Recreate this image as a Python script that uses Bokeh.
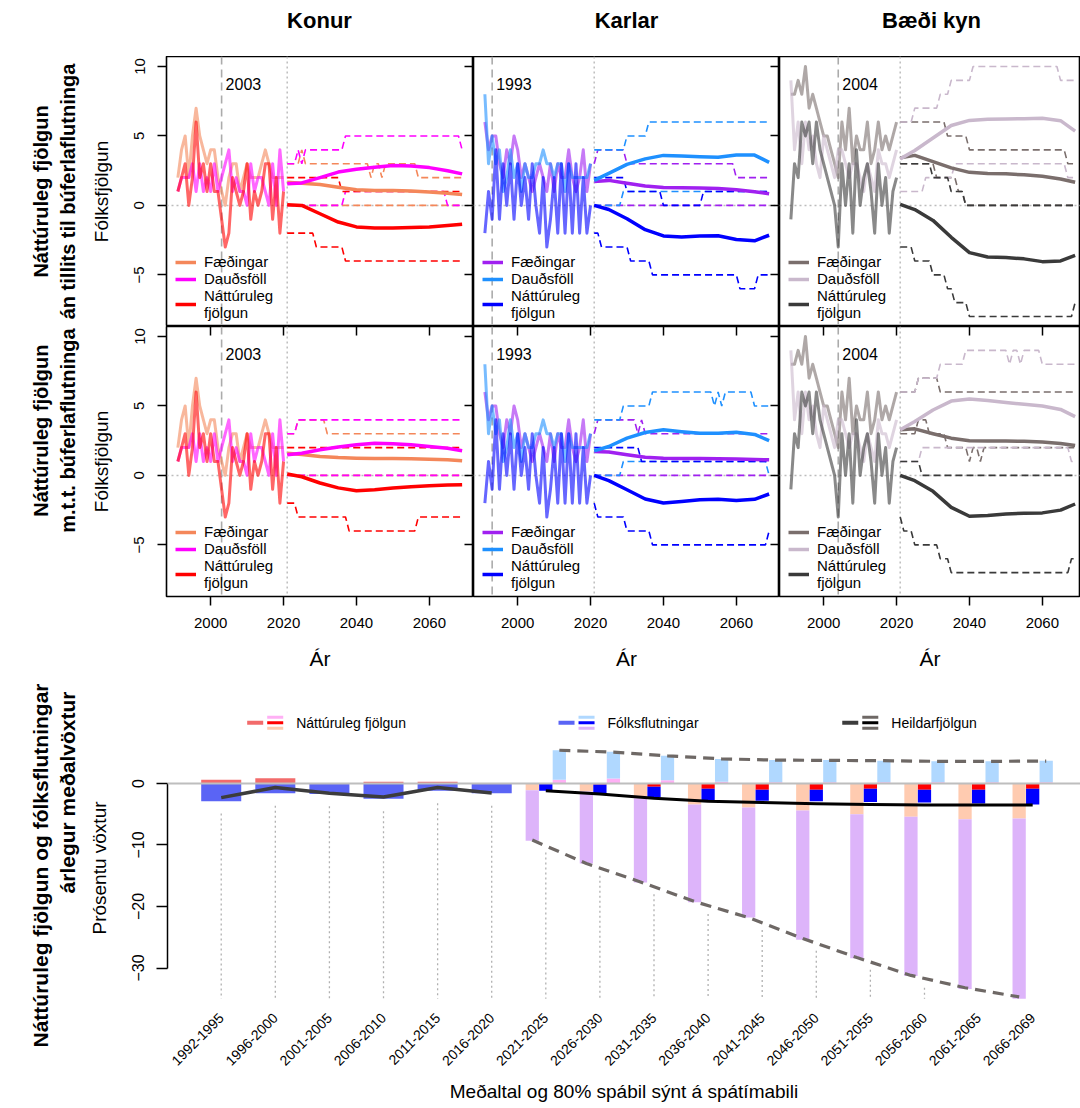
import math
from bokeh.plotting import figure
from bokeh.models import (Range1d, LinearAxis, FixedTicker, Span, Legend,
                          LegendItem, Label)
from bokeh.layouts import column, row
from bokeh.embed import file_html
from bokeh.resources import INLINE
from bokeh.core.properties import value

FONT = "Liberation Sans"
INK = "black"

# ---------------------------------------------------------------- data
hist_years = list(range(1991, 2021))
proj_years = list(range(2021, 2070))
mean_years = [2021, 2025, 2030, 2035, 2040, 2045, 2050, 2055, 2060, 2065, 2069]

# Konur (women) – history
kon_births_hist = [2, 4, 5, 2, 5, 7, 5, 4, 3, 4, 4, 2, 1, 0, 2, 3, 3, 1, 2, 3, 2, 2, 2, 3, 4, 3, 2, 2, 2, 2]
kon_deaths_hist = [1, 2, 2, 2, 3, 1, 3, 1, 2, 1, 3, 1, 2, 3, 4, 1, 2, 1, 1, 0, 3, 1, 2, 2, 1, 0, 3, 0, 4, 1]
kon_nat_hist = [1, 2, 3, 0, 2, 6, 2, 3, 1, 3, 1, 1, -1, -3, -2, 2, 1, 0, 1, 3, -1, 1, 0, 1, 3, 3, -1, 2, -2, 1]
# Karlar (men) – history
kar_births_hist = [6, 4, 5, 5, 3, 2, 4, 3, 5, 4, 2, 3, 2, 1, 2, 3, 2, 1, 3, 1, 3, 2, 2, 4, 2, 1, 2, 4, 1, 3]
kar_deaths_hist = [8, 3, 5, 3, 4, 1, 2, 4, 2, 3, 1, 3, 2, 2, 3, 3, 4, 3, 3, 2, 3, 3, 1, 3, 2, 2, 2, 2, 2, 3]
kar_nat_hist = [-2, 1, -1, 4, -1, 3, 0, 3, -1, 3, 0, 2, -1, 3, 0, -2, 2, -3, -1, 2, -2, 3, -2, 3, -2, 3, -2, 2, -2, 0]
# Bæði kyn – history
bae_births_hist = [8, 8, 9, 8, 10, 7, 8, 7, 6, 5, 5, 4, 3, 2, 6, 4, 7, 3, 5, 4, 4, 6, 3, 4, 6, 4, 5, 4, 5, 6]
bae_deaths_hist = [9, 4, 6, 3, 6, 4, 5, 3, 2, 5, 4, 3, 2, 4, 4, 3, 2, 3, 3, 2, 1, 3, 2, 1, 4, 3, 3, 2, 3, 4]
bae_nat_hist = [-1, 3, 2, 6, 5, 6, 3, 6, 4, 3, 2, 1, 0, -3, 3, 0, 3, -2, 4, 0, 2, 3, 1, -2, 3, 0, 2, -2, 1, 2]

# Projection means (at mean_years); 1 = without migration, 2 = with migration
kon1_births = [1.67, 1.6, 1.5, 1.3, 1.12, 1.08, 1.08, 1.04, 0.96, 0.88, 0.79]
kon1_deaths = [1.55, 1.62, 2.0, 2.4, 2.6, 2.75, 2.87, 2.84, 2.72, 2.5, 2.27]
kon1_nat = [0.05, 0.0, -0.6, -1.2, -1.55, -1.63, -1.63, -1.6, -1.55, -1.45, -1.36]
kon2_births = [1.6, 1.5, 1.36, 1.28, 1.24, 1.22, 1.22, 1.2, 1.16, 1.12, 1.05]
kon2_deaths = [1.48, 1.6, 1.84, 2.05, 2.2, 2.32, 2.27, 2.2, 2.08, 1.95, 1.77]
kon2_nat = [0.1, -0.1, -0.55, -0.9, -1.1, -1.03, -0.9, -0.82, -0.74, -0.7, -0.67]
kar1_births = [1.72, 1.8, 1.6, 1.4, 1.28, 1.27, 1.25, 1.22, 1.12, 0.98, 0.84]
kar1_deaths = [1.8, 2.3, 2.95, 3.35, 3.6, 3.55, 3.5, 3.47, 3.62, 3.62, 3.1]
kar1_nat = [0.0, -0.3, -0.96, -1.75, -2.2, -2.27, -2.2, -2.18, -2.45, -2.55, -2.15]
kar2_births = [1.72, 1.68, 1.48, 1.3, 1.24, 1.22, 1.22, 1.2, 1.18, 1.15, 1.12]
kar2_deaths = [1.77, 2.08, 2.68, 3.09, 3.28, 3.15, 3.04, 3.04, 3.1, 2.95, 2.5]
kar2_nat = [0.0, -0.38, -1.03, -1.7, -1.99, -1.88, -1.75, -1.72, -1.8, -1.72, -1.34]
bae1_births = [3.42, 3.6, 3.15, 2.7, 2.38, 2.3, 2.27, 2.2, 2.1, 1.9, 1.67]
bae1_deaths = [3.35, 3.95, 4.85, 5.75, 6.12, 6.2, 6.22, 6.24, 6.27, 6.1, 5.35]
bae1_nat = [0.07, -0.3, -1.08, -2.3, -3.4, -3.72, -3.76, -3.85, -4.05, -4.0, -3.6]
bae2_births = [3.28, 3.35, 3.0, 2.68, 2.5, 2.48, 2.48, 2.45, 2.4, 2.3, 2.15]
bae2_deaths = [3.28, 3.88, 4.71, 5.35, 5.5, 5.4, 5.25, 5.12, 5.0, 4.75, 4.23]
bae2_nat = [0.0, -0.38, -1.15, -2.3, -2.94, -2.88, -2.78, -2.72, -2.7, -2.5, -2.06]

# 80% prediction bounds, written as step runs: (first year, level)
kon1_births_hi = [(2021, 3), (2025, 4), (2026, 3), (2044, 2), (2045, 3), (2047, 2), (2048, 3), (2057, 2)]
kon1_births_lo = [(2021, 0)]
kon1_deaths_hi = [(2021, 3), (2024, 4), (2025, 3), (2026, 4), (2037, 5), (2069, 4)]
kon1_deaths_lo = [(2021, 0), (2037, 1), (2065, 0)]
kon1_nat_hi = [(2021, 2), (2036, 1)]
kon1_nat_lo = [(2021, -2), (2029, -3), (2037, -4)]
kon2_births_hi = [(2021, 3), (2024, 4), (2032, 3)]
kon2_births_lo = [(2021, 0)]
kon2_deaths_hi = [(2021, 3), (2024, 4)]
kon2_deaths_lo = [(2021, 0)]
kon2_nat_hi = [(2021, 2)]
kon2_nat_lo = [(2021, -2), (2024, -3), (2038, -4), (2057, -3)]
kar1_births_hi = [(2021, 3), (2022, 4), (2030, 3), (2060, 2)]
kar1_births_lo = [(2021, 0)]
kar1_deaths_hi = [(2021, 4), (2030, 5), (2036, 6)]
kar1_deaths_lo = [(2021, 0), (2029, 1)]
kar1_nat_hi = [(2021, 2), (2030, 1), (2040, 0), (2051, 1)]
kar1_nat_lo = [(2021, -2), (2023, -3), (2031, -4), (2037, -5), (2061, -6), (2066, -5)]
kar2_births_hi = [(2021, 3), (2022, 4), (2033, 3), (2034, 4), (2035, 3)]
kar2_births_lo = [(2021, 0)]
kar2_deaths_hi = [(2021, 4), (2029, 5), (2037, 6), (2054, 5), (2055, 6), (2056, 5), (2057, 6), (2065, 5)]
kar2_deaths_lo = [(2021, 0), (2029, 1), (2069, 0)]
kar2_nat_hi = [(2021, 2), (2034, 1)]
kar2_nat_lo = [(2021, -2), (2022, -3), (2030, -4), (2037, -5), (2069, -4)]
bae1_births_hi = [(2021, 6), (2034, 5), (2040, 4), (2067, 3)]
bae1_births_lo = [(2021, 3), (2031, 2), (2037, 1), (2039, 0)]
bae1_deaths_hi = [(2021, 6), (2025, 7), (2032, 8), (2035, 9), (2041, 10), (2065, 9)]
bae1_deaths_lo = [(2021, 1), (2028, 2), (2036, 3), (2067, 2)]
bae1_nat_hi = [(2021, 3), (2030, 2), (2035, 1), (2039, 0)]
bae1_nat_lo = [(2021, -3), (2025, -4), (2030, -5), (2034, -6), (2036, -7), (2040, -8), (2069, -7)]
bae2_births_hi = [(2021, 6), (2026, 7), (2032, 6)]
bae2_births_lo = [(2021, 3), (2026, 4), (2029, 3), (2034, 2), (2040, 1), (2041, 2), (2043, 1), (2044, 2)]
bae2_deaths_hi = [(2021, 6), (2026, 7), (2032, 8), (2039, 9), (2051, 8), (2052, 9), (2054, 8), (2055, 9), (2060, 8)]
bae2_deaths_lo = [(2021, 1), (2027, 2), (2068, 1)]
bae2_nat_hi = [(2021, 1), (2027, 0)]
bae2_nat_lo = [(2021, -3), (2022, -4), (2025, -5), (2032, -6), (2035, -7), (2068, -6)]

mark_years = [2003, 1993, 2004]
col_titles = ["Konur", "Karlar", "Bæði kyn"]
legend_labels = ["Fæðingar", "Dauðsföll", "Náttúruleg\nfjölgun"]
y_ticks = [-5, 0, 5, 10]
x_ticks = [2000, 2020, 2040, 2060]

# Bottom chart: average annual growth (%) per period
periods = ["1992-1995", "1996-2000", "2001-2005", "2006-2010", "2011-2015", "2016-2020",
           "2021-2025", "2026-2030", "2031-2035", "2036-2040", "2041-2045", "2046-2050",
           "2051-2055", "2056-2060", "2061-2065", "2066-2069"]
hist_nat = [0.6, 0.87, 0.05, 0.27, 0.27, 0.05]
hist_mig = [-2.9, -1.6, -1.7, -2.5, -1.2, -1.6]
hist_total = [-2.3, -0.65, -1.6, -2.2, -0.65, -1.55]
fut_nat_lo = [-1.1, -1.3, -2.4, -3.4, -3.9, -4.4, -5.0, -5.4, -5.8, -5.7]
fut_mig_lo = [-8.2, -11.7, -13.7, -15.9, -17.9, -21.0, -23.4, -25.9, -27.6, -29.3]
fut_nat_mid = [-0.05, -0.15, -0.54, -0.87, -1.0, -1.0, -0.87, -1.0, -1.0, -0.87]
fut_mig_mid = [-1.15, -1.45, -1.66, -1.83, -1.8, -1.9, -2.13, -2.1, -2.25, -2.53]
fut_nat_hi = [0.6, 0.8, 0.54, 0.27, 0.2, 0.2, 0.2, 0.2, 0.2, 0.2]
fut_mig_hi = [4.8, 4.35, 3.96, 3.73, 3.6, 3.6, 3.5, 3.4, 3.4, 3.5]
fut_tot_mean = [-1.2, -1.7, -2.4, -2.9, -3.1, -3.3, -3.4, -3.5, -3.5, -3.5]
fut_tot_lo = [-9.2, -13.0, -16.0, -19.2, -21.8, -25.2, -28.3, -31.2, -33.2, -34.7]
fut_tot_hi = [5.4, 5.1, 4.5, 4.0, 3.8, 3.75, 3.7, 3.6, 3.6, 3.65]
bottom_ticks = [-30, -20, -10, 0]

# ---------------------------------------------------------------- styles
COLORS = [
    {"births": "#F4875A", "deaths": "#FF00FF", "nat": "#FF0000"},
    {"births": "#A020F0", "deaths": "#1E90FF", "nat": "#0000FF"},
    {"births": "#7A6E6C", "deaths": "#C9B8CC", "nat": "#3A3A3A"},
]
HIST = [
    {"births": kon_births_hist, "deaths": kon_deaths_hist, "nat": kon_nat_hist},
    {"births": kar_births_hist, "deaths": kar_deaths_hist, "nat": kar_nat_hist},
    {"births": bae_births_hist, "deaths": bae_deaths_hist, "nat": bae_nat_hist},
]
PROJ = {
    (1, 0): ({"births": kon1_births, "deaths": kon1_deaths, "nat": kon1_nat},
             {"births": (kon1_births_lo, kon1_births_hi), "deaths": (kon1_deaths_lo, kon1_deaths_hi), "nat": (kon1_nat_lo, kon1_nat_hi)}),
    (2, 0): ({"births": kon2_births, "deaths": kon2_deaths, "nat": kon2_nat},
             {"births": (kon2_births_lo, kon2_births_hi), "deaths": (kon2_deaths_lo, kon2_deaths_hi), "nat": (kon2_nat_lo, kon2_nat_hi)}),
    (1, 1): ({"births": kar1_births, "deaths": kar1_deaths, "nat": kar1_nat},
             {"births": (kar1_births_lo, kar1_births_hi), "deaths": (kar1_deaths_lo, kar1_deaths_hi), "nat": (kar1_nat_lo, kar1_nat_hi)}),
    (2, 1): ({"births": kar2_births, "deaths": kar2_deaths, "nat": kar2_nat},
             {"births": (kar2_births_lo, kar2_births_hi), "deaths": (kar2_deaths_lo, kar2_deaths_hi), "nat": (kar2_nat_lo, kar2_nat_hi)}),
    (1, 2): ({"births": bae1_births, "deaths": bae1_deaths, "nat": bae1_nat},
             {"births": (bae1_births_lo, bae1_births_hi), "deaths": (bae1_deaths_lo, bae1_deaths_hi), "nat": (bae1_nat_lo, bae1_nat_hi)}),
    (2, 2): ({"births": bae2_births, "deaths": bae2_deaths, "nat": bae2_nat},
             {"births": (bae2_births_lo, bae2_births_hi), "deaths": (bae2_deaths_lo, bae2_deaths_hi), "nat": (bae2_nat_lo, bae2_nat_hi)}),
}


def expand_steps(runs):
    out = []
    for yr in proj_years:
        lvl = None
        for start, v in runs:
            if start <= yr:
                lvl = v
        out.append(lvl)
    return out


X0, X1 = 1987.88, 2072.12
Y0, Y1 = -8.72, 10.72
FRAME_W = [307, 306, 301]
PX_PER_YEAR = 307 / (X1 - X0)
KEYS = ["births", "deaths", "nat"]


def blank_fig(width, height, xr, yr):
    f = figure(width=width, height=height, x_range=xr, y_range=yr,
               output_backend="svg", toolbar_location=None,
               x_axis_type=None, y_axis_type=None,
               min_border_left=0, min_border_right=0,
               min_border_top=0, min_border_bottom=0)
    f.outline_line_color = None
    f.background_fill_color = "white"
    f.border_fill_color = "white"
    return f


def tick_only_axis(loc, ticks):
    # ticks of a neighbouring panel's axis that reach into this panel
    return LinearAxis(fixed_location=loc, ticker=FixedTicker(ticks=ticks, minor_ticks=[]),
                      major_tick_in=9, major_tick_out=0, major_tick_line_width=1.5,
                      major_tick_line_color=INK,
                      major_label_text_color=None, major_label_text_alpha=0,
                      major_label_standoff=0,
                      axis_line_color=None, minor_tick_line_color=None)


def build_panel(rowno, col):
    first = col == 0
    left_b = 81 if first else 0
    bottom_b = 80 if rowno == 2 else 0
    fw = FRAME_W[col]
    x_end = X0 + fw / PX_PER_YEAR
    p = figure(width=fw + left_b, height=270 + bottom_b,
               x_range=Range1d(X0, x_end), y_range=Range1d(Y0, Y1),
               output_backend="svg", toolbar_location=None,
               x_axis_type=None, y_axis_type=None,
               min_border_left=left_b, min_border_right=0,
               min_border_top=0, min_border_bottom=bottom_b)
    p.outline_line_color = INK
    p.outline_line_width = 1.6
    p.background_fill_color = "white"
    p.border_fill_color = "white"

    p.add_layout(Span(location=mark_years[col], dimension="height", line_color="#ABABAB",
                      line_dash="8 5", line_width=1.6, level="underlay"))
    p.add_layout(Span(location=2021, dimension="height", line_color="#BDBDBD",
                      line_dash="2 3", line_width=1.5, level="underlay"))
    p.add_layout(Span(location=0, dimension="width", line_color="#BDBDBD",
                      line_dash="2 3", line_width=1.5, level="underlay"))

    colors = COLORS[col]
    hist = HIST[col]
    means, bounds = PROJ[(rowno, col)]
    for k in KEYS:
        p.line(hist_years, hist[k], line_color=colors[k], line_alpha=0.6,
               line_width=3, line_join="round")
    for k in KEYS:
        lo, hi = bounds[k]
        p.line(proj_years, expand_steps(hi), line_color=colors[k], line_width=1.6, line_dash="7 4")
        p.line(proj_years, expand_steps(lo), line_color=colors[k], line_width=1.6, line_dash="7 4")
    rends = []
    for k in KEYS:
        rends.append(p.line(mean_years, means[k], line_color=colors[k], line_width=3.5,
                            line_join="round"))

    legend = Legend(items=[LegendItem(label=lab, renderers=[r]) for lab, r in zip(legend_labels, rends)],
                    location=(7, 3), padding=2, margin=0, spacing=0,
                    label_text_font=FONT, label_text_font_size="15px", label_text_color=INK,
                    label_height=16, glyph_height=16, glyph_width=21, label_standoff=8,
                    background_fill_alpha=0, border_line_alpha=0)
    p.add_layout(legend)

    p.add_layout(Label(x=mark_years[col] + 1.1, y=8.75, text=str(mark_years[col]),
                       text_font=FONT, text_font_size="16px", text_color=INK,
                       text_baseline="middle", text_align="left"))

    if first:
        ax = LinearAxis(ticker=FixedTicker(ticks=y_ticks, minor_ticks=[]),
                        major_tick_out=9, major_tick_in=0, major_tick_line_width=1.5,
                        major_tick_line_color=INK,
                        major_label_orientation="vertical",
                        major_label_text_font=FONT, major_label_text_font_size="15px",
                        major_label_text_color=INK,
                        major_label_standoff=13, axis_line_color=None,
                        minor_tick_line_color=None,
                        axis_label="Fólksfjölgun", axis_label_text_font=FONT,
                        axis_label_text_font_size="19px", axis_label_text_font_style="normal",
                        axis_label_text_color=INK, axis_label_standoff=20)
        p.add_layout(ax, "left")
    if col < 2:
        p.add_layout(tick_only_axis(x_end, y_ticks), "right")
    if rowno == 2:
        p.add_layout(tick_only_axis(Y1, x_ticks), "above")
        bx = LinearAxis(ticker=FixedTicker(ticks=x_ticks, minor_ticks=[]),
                        major_tick_out=9, major_tick_in=0, major_tick_line_width=1.5,
                        major_tick_line_color=INK,
                        major_label_text_font=FONT, major_label_text_font_size="15px",
                        major_label_text_color=INK,
                        major_label_standoff=12, axis_line_color=None,
                        minor_tick_line_color=None,
                        axis_label="Ár", axis_label_text_font=FONT,
                        axis_label_text_font_size="21px", axis_label_text_font_style="normal",
                        axis_label_text_color=INK, axis_label_standoff=16)
        p.add_layout(bx, "below")
    return p


# ---------------------------------------------------------------- header & side labels
header = blank_fig(1080, 56, Range1d(0, 1080), Range1d(-56, 0))
header.text(x=[319, 626, 931], y=[-20, -20, -20], text=col_titles,
            text_font=value(FONT), text_font_style="bold", text_font_size="22px",
            text_color=INK, text_align="center", text_baseline="middle")

ll1 = blank_fig(85, 270, Range1d(0, 85), Range1d(-326, -56))
ll1.text(x=[40, 67], y=[-191, -191],
         text=["Náttúruleg fjölgun", "án tillits til búferlaflutninga"],
         angle=math.pi / 2, text_font=value(FONT), text_font_style="bold", text_color=INK,
         text_font_size="20px", text_align="center", text_baseline="middle")

ll2 = blank_fig(85, 350, Range1d(0, 85), Range1d(-676, -326))
ll2.text(x=[40, 67], y=[-461, -461],
         text=["Náttúruleg fjölgun", "m.t.t. búferlaflutninga"],
         angle=math.pi / 2, text_font=value(FONT), text_font_style="bold", text_color=INK,
         text_font_size="20px", text_align="center", text_baseline="middle")

ll3 = blank_fig(85, 430, Range1d(0, 85), Range1d(-1106, -676))
ll3.text(x=[40, 67], y=[-865, -792],
         text=["Náttúruleg fjölgun og fólksflutningar", "árlegur meðalvöxtur"],
         angle=math.pi / 2, text_font=value(FONT), text_font_style="bold", text_color=INK,
         text_font_size="21px", text_align="center", text_baseline="middle")

panels1 = [build_panel(1, c) for c in range(3)]
panels2 = [build_panel(2, c) for c in range(3)]

# ---------------------------------------------------------------- bottom chart
NAT_HIST_C = "#F26B6B"
MIG_HIST_C = "#5A64F5"
PEACH, LPURPLE = "#FFCBB0", "#DDB4FA"
RED, BLUE = "#FF0000", "#0000FF"
PINK, LBLUE = "#FFB0F5", "#B0D8FF"
TOT_HIST_C, TOT_MEAN_C, TOT_BOUND_C = "#3C3C3C", "#000000", "#6E6865"

bx_range = Range1d(-0.993, 15.884)
bot = figure(width=995, height=371, x_range=bx_range, y_range=Range1d(-35.28, 7.8),
             output_backend="svg", toolbar_location=None,
             x_axis_type=None, y_axis_type=None,
             min_border_left=82, min_border_right=0, min_border_top=0, min_border_bottom=106)
bot.outline_line_color = None
bot.background_fill_color = "white"
bot.border_fill_color = "white"

hx = list(range(len(hist_nat)))
fx = [len(hist_nat) + i for i in range(len(fut_tot_mean))]

# dotted guide lines below each period
gx, gy0, gy1 = [], [], []
for i, x in enumerate(hx):
    low = min(hist_mig[i] + (hist_nat[i] if hist_nat[i] < 0 else 0), hist_total[i]) - 2
    gx.append(x); gy0.append(low); gy1.append(-35)
for i, x in enumerate(fx):
    low = fut_tot_lo[i] - 2
    if low > -35:
        gx.append(x); gy0.append(low); gy1.append(-35)
bot.segment(x0=gx, y0=gy0, x1=gx, y1=gy1, line_color="#B0B0B0", line_dash="2 3", line_width=1.3)

# history bars
mig_top = [n if n < 0 else 0 for n in hist_nat]
bot.vbar(x=hx, width=0.74, bottom=0, top=hist_nat, fill_color=NAT_HIST_C, line_color=None)
bot.vbar(x=hx, width=0.74, top=mig_top, bottom=[t + m for t, m in zip(mig_top, hist_mig)],
         fill_color=MIG_HIST_C, line_color=None)

# projection bars: lower bound (left), mean (middle), upper bound (right)
W = 0.245
fl = [x - 0.25 for x in fx]
fr = [x + 0.25 for x in fx]
bot.vbar(x=fl, width=W, bottom=0, top=fut_nat_lo, fill_color=PEACH, line_color=None)
bot.vbar(x=fl, width=W, top=fut_nat_lo, bottom=[a + b for a, b in zip(fut_nat_lo, fut_mig_lo)],
         fill_color=LPURPLE, line_color=None)
bot.vbar(x=fx, width=W, bottom=0, top=fut_nat_mid, fill_color=RED, line_color=None)
bot.vbar(x=fx, width=W, top=fut_nat_mid, bottom=[a + b for a, b in zip(fut_nat_mid, fut_mig_mid)],
         fill_color=BLUE, line_color=None)
bot.vbar(x=fr, width=W, bottom=0, top=fut_nat_hi, fill_color=PINK, line_color=None)
bot.vbar(x=fr, width=W, bottom=fut_nat_hi, top=[a + b for a, b in zip(fut_nat_hi, fut_mig_hi)],
         fill_color=LBLUE, line_color=None)

bot.add_layout(Span(location=0, dimension="width", line_color="#BEBEBE", line_width=2))

bot.line(hx, hist_total, line_color=TOT_HIST_C, line_width=3.5, line_join="round")
bot.line(fx, fut_tot_mean, line_color=TOT_MEAN_C, line_width=3, line_join="round")
bot.line(fl, fut_tot_lo, line_color=TOT_BOUND_C, line_width=3.2, line_dash="11 7")
bot.line(fr, fut_tot_hi, line_color=TOT_BOUND_C, line_width=3.2, line_dash="11 7")

bot.add_layout(LinearAxis(ticker=FixedTicker(ticks=bottom_ticks, minor_ticks=[]), bounds=(-30, 0),
                          major_tick_out=11, major_tick_in=0, major_tick_line_width=1.5,
                          major_tick_line_color=INK, axis_line_color=INK,
                          axis_line_width=1.5, major_label_orientation="vertical",
                          major_label_text_font=FONT, major_label_text_font_size="16px",
                          major_label_text_color=INK,
                          major_label_standoff=12, minor_tick_line_color=None,
                          axis_label="Prósentu vöxtur", axis_label_text_font=FONT,
                          axis_label_text_font_size="19px", axis_label_text_font_style="normal",
                          axis_label_text_color=INK, axis_label_standoff=20), "left")
bot.add_layout(LinearAxis(ticker=FixedTicker(ticks=list(range(len(periods))), minor_ticks=[]),
                          major_label_overrides={i: s for i, s in enumerate(periods)},
                          major_label_orientation=math.pi / 4,
                          major_label_text_font=FONT, major_label_text_font_size="14px",
                          major_label_text_color=INK,
                          major_label_standoff=9, axis_line_color=None,
                          major_tick_line_color=None, minor_tick_line_color=None,
                          axis_label="Meðaltal og 80% spábil sýnt á spátímabili",
                          axis_label_text_font=FONT, axis_label_text_font_size="19px",
                          axis_label_text_color=INK,
                          axis_label_text_font_style="normal", axis_label_standoff=8), "below")

# legend strip above the bottom chart
leg = blank_fig(995, 59, bx_range, Range1d(-735, -676))
leg.min_border_left = 82
leg_labels = ["Náttúruleg fjölgun", "Fólksflutningar", "Heildarfjölgun"]
leg_x = [0.48, 6.235, 11.48]
leg_main = [NAT_HIST_C, MIG_HIST_C, TOT_HIST_C]
leg_stack = [[PINK, RED, PEACH], [LBLUE, BLUE, LPURPLE], [TOT_BOUND_C, TOT_MEAN_C, TOT_BOUND_C]]
for lx, mc, stack in zip(leg_x, leg_main, leg_stack):
    leg.segment(x0=[lx], y0=[-722.3], x1=[lx + 0.296], y1=[-722.3], line_color=mc, line_width=4)
    leg.segment(x0=[lx + 0.37] * 3, y0=[-716.7, -722.3, -727.7],
                x1=[lx + 0.666] * 3, y1=[-716.7, -722.3, -727.7],
                line_color=stack, line_width=3)
leg.text(x=[lx + 0.906 for lx in leg_x], y=[-722.3] * 3, text=leg_labels,
         text_font=value(FONT), text_font_size="14px", text_color=INK,
         text_align="left", text_baseline="middle")

layout = column(
    header,
    row(ll1, *panels1),
    row(ll2, *panels2),
    row(ll3, column(leg, bot)),
)

open("out.html", "w").write(file_html(layout, INLINE))
